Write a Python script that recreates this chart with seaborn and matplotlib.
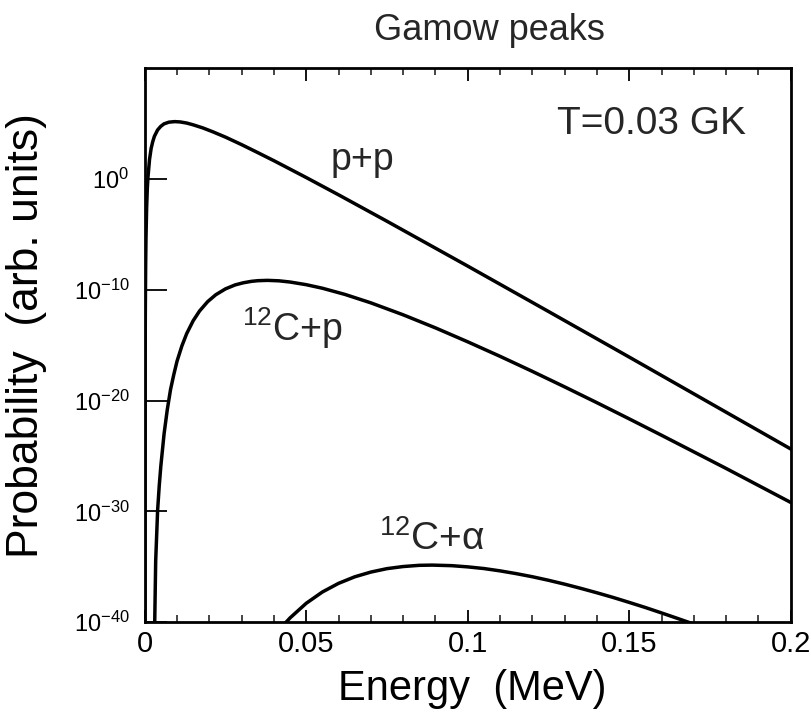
import numpy as np
import pandas as pd
import matplotlib
matplotlib.use("Agg")
import matplotlib.pyplot as plt
import seaborn as sns
from matplotlib.ticker import FixedLocator, MultipleLocator, FuncFormatter, NullLocator

# ---- data (energy in MeV, log10 of probability) ----
pp_energy = [0.00003, 0.00005, 0.00007, 0.0001, 0.00015, 0.0002, 0.0003, 0.0004, 0.0006,
             0.0008, 0.001, 0.0015, 0.002, 0.0025, 0.003, 0.004, 0.005, 0.006, 0.0075,
             0.0093, 0.011, 0.013, 0.015, 0.018, 0.021, 0.025, 0.03, 0.035, 0.04, 0.05,
             0.06, 0.075, 0.1, 0.125, 0.15, 0.175, 0.2]
pp_log10 = [-45.5, -33.0, -26.4, -20.5, -14.9, -11.6, -7.66, -5.3, -2.58,
            -0.9, 0.14, 1.8, 2.79, 3.4, 3.87, 4.45, 4.78, 5.0, 5.15,
            5.2, 5.17, 5.07, 4.91, 4.63, 4.29, 3.8, 3.12, 2.4, 1.67, 0.15,
            -1.41, -3.8, -7.85, -11.95, -16.07, -20.22, -24.37]

cp_energy = [0.0030, 0.0034, 0.0040, 0.0045, 0.0050, 0.006, 0.007, 0.008, 0.009, 0.010,
             0.0115, 0.013, 0.015, 0.017, 0.0195, 0.022, 0.025, 0.028, 0.0305, 0.033,
             0.035, 0.038, 0.0415, 0.045, 0.05, 0.055, 0.062, 0.07, 0.08, 0.09, 0.1,
             0.11, 0.12, 0.13, 0.14, 0.15, 0.16, 0.175, 0.18, 0.2]
cp_log10 = [-42.0, -34.5, -29.9, -27.7, -25.9, -23.0, -20.8, -19.0, -17.66, -16.45,
            -15.07, -13.95, -12.79, -11.9, -11.06, -10.44, -9.91, -9.55, -9.36, -9.23,
            -9.17, -9.14, -9.18, -9.29, -9.53, -9.85, -10.41, -11.17, -12.25, -13.43, -14.69,
            -16.0, -17.36, -18.76, -20.19, -21.65, -23.13, -25.38, -26.13, -29.2]
cp_order = np.argsort(cp_energy)

ca_energy = [0.043, 0.045, 0.05, 0.055, 0.06, 0.065, 0.07, 0.075, 0.08, 0.085, 0.089,
             0.095, 0.1, 0.105, 0.11, 0.115, 0.12, 0.125, 0.13, 0.135, 0.14, 0.145,
             0.15, 0.155, 0.16, 0.165, 0.17]
ca_log10 = [-40.26, -39.63, -38.31, -37.29, -36.51, -35.92, -35.49, -35.18, -34.99, -34.88, -34.86,
            -34.91, -35.02, -35.17, -35.38, -35.63, -35.91, -36.23, -36.58, -36.96, -37.36, -37.78,
            -38.23, -38.69, -39.18, -39.68, -40.19]

series_labels = ["p+p", "$^{12}$C+p", "$^{12}$C+\u03b1"]
x_tick_values = [0, 0.05, 0.1, 0.15, 0.2]
x_tick_labels = ["0", "0.05", "0.1", "0.15", "0.2"]
y_tick_exponents = [-40, -30, -20, -10, 0]

sns.set_theme(style="ticks")
plt.rcParams['font.family'] = ['Liberation Sans', 'DejaVu Sans']
plt.rcParams['mathtext.fontset'] = 'custom'
plt.rcParams['mathtext.rm'] = 'Liberation Sans'
plt.rcParams['mathtext.it'] = 'Liberation Sans:italic'
plt.rcParams['mathtext.bf'] = 'Liberation Sans:bold'
plt.rcParams['axes.unicode_minus'] = False

fig = plt.figure(figsize=(8.12, 7.2), dpi=100)
fig.patch.set_facecolor("white")
ax = fig.add_axes([0.1782, 0.1361, 0.7956, 0.7688])
ax.set_facecolor("white")

for e, l in [(pp_energy, pp_log10), (cp_energy, cp_log10), (ca_energy, ca_log10)]:
    df = pd.DataFrame({"E": e, "P": 10.0 ** np.array(l)}).sort_values("E")
    sns.lineplot(data=df, x="E", y="P", color="black", linewidth=2.5, ax=ax,
                 estimator=None, sort=False, legend=False,
                 solid_joinstyle="round", solid_capstyle="round")

ax.set_yscale("log")
ax.set_xlim(0, 0.2)
ax.set_ylim(1e-40, 1e10)

ax.xaxis.set_major_locator(FixedLocator(x_tick_values))
ax.xaxis.set_major_formatter(FuncFormatter(
    lambda v, p: x_tick_labels[x_tick_values.index(round(v, 2))] if round(v, 2) in x_tick_values else ""))
ax.xaxis.set_minor_locator(MultipleLocator(0.01))
ax.yaxis.set_major_locator(FixedLocator([10.0 ** k for k in y_tick_exponents]))
ax.yaxis.set_minor_locator(NullLocator())
ax.yaxis.set_major_formatter(FuncFormatter(lambda v, p: r"$\mathregular{10^{%d}}$" % round(np.log10(v))))

ax.tick_params(axis="x", which="major", direction="in", top=True, bottom=True,
               length=9, width=1.3, labelsize=21, pad=6, colors="black")
ax.tick_params(axis="x", which="minor", direction="in", top=True, bottom=True,
               length=5, width=1.2)
ax.tick_params(axis="y", which="major", direction="in", left=True, right=False,
               length=16, width=1.3, labelsize=17, pad=11, colors="black")
for s in ax.spines.values():
    s.set_visible(True)
    s.set_linewidth(2.0)
    s.set_color("black")

ax.set_xlabel("Energy  (MeV)", fontsize=30, color="black")
ax.xaxis.set_label_coords(0.507, -0.085)
ax.set_ylabel("Probability  (arb. units)", fontsize=32, color="black")
ax.yaxis.set_label_coords(-0.152, 0.518)

ax.text(0.0673, 10 ** 1.77, series_labels[0], fontsize=27, ha="center", va="center")
ax.text(0.0456, 10 ** -14.6, series_labels[1], fontsize=27, ha="center", va="baseline")
ax.text(0.0889, 10 ** -33.5, series_labels[2], fontsize=28, ha="center", va="baseline")
ax.text(0.784, 0.8817, "T=0.03 GK", transform=ax.transAxes, fontsize=28,
        ha="center", va="baseline")

fig.text(0.603, 0.958, "Gamow peaks", fontsize=26, ha="center", va="center")

fig.savefig("out.png", dpi=100, facecolor="white")
